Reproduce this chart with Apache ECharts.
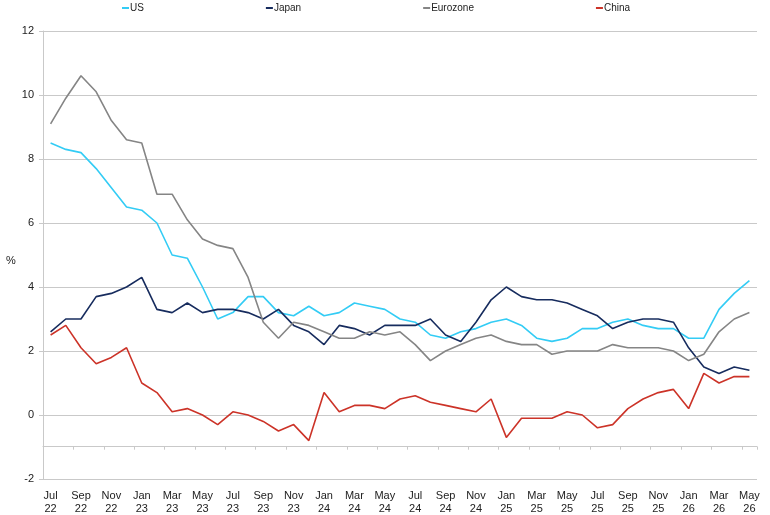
<!DOCTYPE html>
<html>
<head>
<meta charset="utf-8">
<script src="https://cdn.jsdelivr.net/npm/echarts@6/dist/echarts.min.js"></script>
<style>
  html, body { margin: 0; padding: 0; background: #fff; }
  #chart { width: 770px; height: 515px; }
</style>
</head>
<body>
<div id="chart"></div>
<script>
// months, Jul 22 .. May 26
var months = [
  'Jul\n22', 'Aug\n22', 'Sep\n22', 'Oct\n22', 'Nov\n22', 'Dec\n22',
  'Jan\n23', 'Feb\n23', 'Mar\n23', 'Apr\n23', 'May\n23', 'Jun\n23',
  'Jul\n23', 'Aug\n23', 'Sep\n23', 'Oct\n23', 'Nov\n23', 'Dec\n23',
  'Jan\n24', 'Feb\n24', 'Mar\n24', 'Apr\n24', 'May\n24', 'Jun\n24',
  'Jul\n24', 'Aug\n24', 'Sep\n24', 'Oct\n24', 'Nov\n24', 'Dec\n24',
  'Jan\n25', 'Feb\n25', 'Mar\n25', 'Apr\n25', 'May\n25', 'Jun\n25',
  'Jul\n25', 'Aug\n25', 'Sep\n25', 'Oct\n25', 'Nov\n25', 'Dec\n25',
  'Jan\n26', 'Feb\n26', 'Mar\n26', 'Apr\n26', 'May\n26'
];

var us = [8.5, 8.3, 8.2, 7.7, 7.1, 6.5, 6.4, 6.0, 5.0, 4.9,
  4.0, 3.0, 3.2, 3.7, 3.7, 3.2, 3.1, 3.4, 3.1, 3.2,
  3.5, 3.4, 3.3, 3.0, 2.9, 2.5, 2.4, 2.6, 2.7, 2.9,
  3.0, 2.8, 2.4, 2.3, 2.4, 2.7, 2.7, 2.9, 3.0, 2.8,
  2.7, 2.7, 2.4, 2.4, 3.3, 3.8, 4.2];

var japan = [2.6, 3.0, 3.0, 3.7, 3.8, 4.0, 4.3, 3.3, 3.2, 3.5,
  3.2, 3.3, 3.3, 3.2, 3.0, 3.3, 2.8, 2.6, 2.2, 2.8,
  2.7, 2.5, 2.8, 2.8, 2.8, 3.0, 2.5, 2.3, 2.9, 3.6,
  4.0, 3.7, 3.6, 3.6, 3.5, 3.3, 3.1, 2.7, 2.9, 3.0,
  3.0, 2.9, 2.1, 1.5, 1.3, 1.5, 1.4];

var eurozone = [9.1, 9.9, 10.6, 10.1, 9.2, 8.6, 8.5, 6.9, 6.9, 6.1,
  5.5, 5.3, 5.2, 4.3, 2.9, 2.4, 2.9, 2.8, 2.6, 2.4,
  2.4, 2.6, 2.5, 2.6, 2.2, 1.7, 2.0, 2.2, 2.4, 2.5,
  2.3, 2.2, 2.2, 1.9, 2.0, 2.0, 2.0, 2.2, 2.1, 2.1,
  2.1, 2.0, 1.7, 1.9, 2.6, 3.0, 3.2];

var china = [2.5, 2.8, 2.1, 1.6, 1.8, 2.1, 1.0, 0.7, 0.1, 0.2,
  0.0, -0.3, 0.1, 0.0, -0.2, -0.5, -0.3, -0.8, 0.7, 0.1,
  0.3, 0.3, 0.2, 0.5, 0.6, 0.4, 0.3, 0.2, 0.1, 0.5,
  -0.7, -0.1, -0.1, -0.1, 0.1, 0.0, -0.4, -0.3, 0.2, 0.5,
  0.7, 0.8, 0.2, 1.3, 1.0, 1.2, 1.2];

var yTicks = { min: -2, max: 12, step: 2 };

var seriesNames = ['US', 'Japan', 'Eurozone', 'China'];
var seriesColors = ['#33ccf5', '#172c5e', '#858585', '#cc3328'];
var seriesData = [us, japan, eurozone, china];

var FONT = '"Liberation Sans", Arial, sans-serif';
var GRID_COLOR = '#c9c9c9';

var chart = echarts.init(document.getElementById('chart'), null, { renderer: 'canvas' });

var makeSeries = function(i) {
  return {
    name: seriesNames[i],
    type: 'line',
    data: seriesData[i],
    symbol: 'none',
    smooth: false,
    animation: false,
    lineStyle: { color: seriesColors[i], width: 1.6 },
    itemStyle: { color: seriesColors[i] }
  };
};

var series = [];
for (var i = 0; i < seriesNames.length; i++) {
  series.push(makeSeries(i));
}

var option = {
  backgroundColor: '#fff',
  animation: false,
  textStyle: { fontFamily: FONT },
  legend: {
    left: 122,
    top: 3,
    icon: 'rect',
    itemWidth: 7,
    itemHeight: 2,
    itemGap: 122,
    padding: [0, 0, 0, 0],
    textStyle: { fontSize: 10, color: '#222', fontFamily: FONT, padding: [0, 0, 0, -4] },
    data: seriesNames
  },
  grid: { left: 43, right: 13, top: 31, bottom: 32, containLabel: false },
  xAxis: [{
    // labels along the bottom
    type: 'category',
    data: months,
    boundaryGap: true,
    axisLine: { show: false },
    axisTick: { show: false },
    splitLine: { show: false },
    axisLabel: {
      interval: 1,
      margin: 10,
      fontSize: 11,
      lineHeight: 13,
      color: '#222',
      fontFamily: FONT
    }
  }, {
    // the axis line crosses at -1 in the original
    type: 'category',
    data: months,
    position: 'bottom',
    offset: -32.3,
    boundaryGap: true,
    axisLine: { show: true, onZero: false, lineStyle: { color: GRID_COLOR, width: 1 } },
    axisTick: { show: true, interval: 1, length: 3, inside: false, lineStyle: { color: GRID_COLOR } },
    axisLabel: { show: false },
    splitLine: { show: false }
  }],
  yAxis: {
    type: 'value',
    min: yTicks.min,
    max: yTicks.max,
    interval: yTicks.step,
    name: '%',
    nameLocation: 'middle',
    nameRotate: 0,
    nameGap: 27,
    nameTextStyle: { fontSize: 11, color: '#222', fontFamily: FONT, verticalAlign: 'top' },
    axisLine: { show: true, lineStyle: { color: GRID_COLOR, width: 1 } },
    axisTick: { show: true, length: 4, lineStyle: { color: GRID_COLOR } },
    axisLabel: { fontSize: 11, color: '#222', margin: 9, fontFamily: FONT },
    splitLine: { show: true, lineStyle: { color: GRID_COLOR, width: 1 } }
  },
  series: series
};

chart.setOption(option);
</script>
</body>
</html>
